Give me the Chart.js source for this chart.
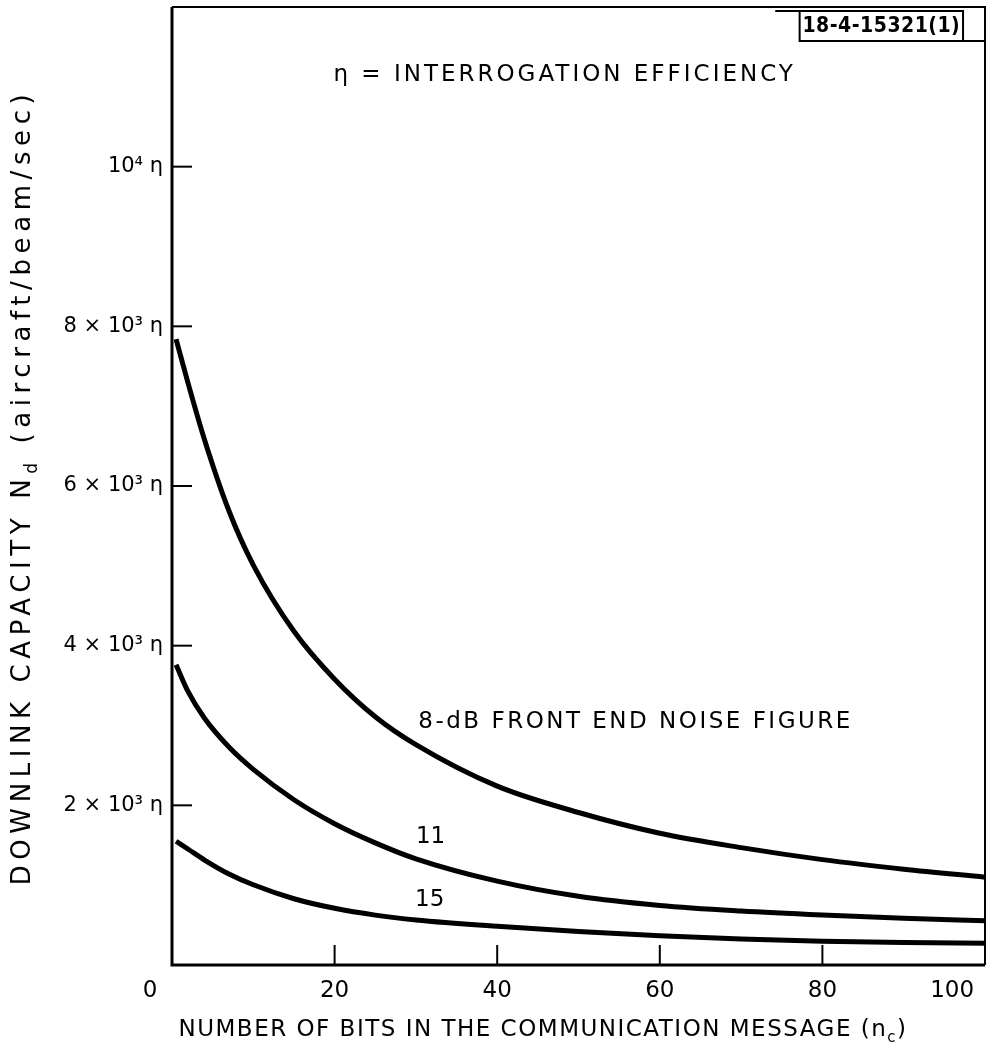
<!DOCTYPE html>
<html>
<head>
<meta charset="utf-8">
<script src="https://cdn.jsdelivr.net/npm/chart.js@4.4.0/dist/chart.umd.min.js"></script>
<style>
  html, body { margin: 0; padding: 0; background: #fff; }
</style>
</head>
<body>
<canvas id="capacityChart" width="997" height="1048"></canvas>
<script>
// values
const bits = [0.5, 2, 4, 7, 10, 15, 20, 25, 30, 40, 50, 60, 70, 80, 90, 100];
const noise8dB = [7840, 7280, 6580, 5690, 5010, 4180, 3580, 3110, 2760, 2240, 1910, 1650, 1470, 1320, 1200, 1100];
const noise11dB = [3760, 3420, 3090, 2730, 2450, 2070, 1770, 1530, 1330, 1050, 860, 745, 675, 625, 585, 555];
const noise15dB = [1550, 1450, 1315, 1140, 1005, 830, 710, 625, 565, 485, 420, 365, 325, 298, 282, 272];

const xTickValues = [0, 20, 40, 60, 80, 100];
const xTickLabels = ['0', '20', '40', '60', '80', '100'];
const yTickValues = [2000, 4000, 6000, 8000, 10000];
const yTickLabels = ['2 × 10³ η', '4 × 10³ η', '6 × 10³ η', '8 × 10³ η', '10⁴ η'];

const FONT = '"DejaVu Sans", "Liberation Sans", sans-serif';

function toPoints(ys) {
    return bits.map((b, i) => ({ x: b, y: ys[i] }));
}

function curve(label, ys) {
    return {
        label: label,
        data: toPoints(ys),
        borderColor: '#000',
        borderWidth: 5,
        borderJoinStyle: 'round',
        pointRadius: 0,
        fill: false,
        cubicInterpolationMode: 'monotone'
    };
}

// text with a lowered small letter, e.g. N_d or n_c, centred on the origin
function drawSubText(ctx, before, sub, after, size, spacing) {
    const small = Math.round(size * 0.65);
    ctx.letterSpacing = spacing + 'px';
    ctx.font = size + 'px ' + FONT;
    const w1 = ctx.measureText(before).width;
    const w3 = ctx.measureText(after).width;
    ctx.font = small + 'px ' + FONT;
    const w2 = ctx.measureText(sub).width;
    let x = -(w1 + w2 + w3) / 2;
    ctx.textAlign = 'left';
    ctx.textBaseline = 'middle';
    ctx.font = size + 'px ' + FONT;
    ctx.fillText(before, x, 0);
    x += w1;
    ctx.font = small + 'px ' + FONT;
    ctx.fillText(sub, x, size * 0.35);
    x += w2;
    ctx.font = size + 'px ' + FONT;
    ctx.fillText(after, x, 0);
    ctx.letterSpacing = '0px';
}

const paperPlugin = {
    id: 'paper',
    afterDraw(chart) {
        const { ctx, chartArea: a, scales: { x, y } } = chart;
        ctx.save();
        ctx.strokeStyle = '#000';
        ctx.fillStyle = '#000';

        // frame
        ctx.lineWidth = 3;
        ctx.beginPath();
        ctx.moveTo(a.left, a.top);
        ctx.lineTo(a.left, a.bottom);
        ctx.lineTo(a.right, a.bottom);
        ctx.stroke();
        ctx.lineWidth = 2;
        ctx.beginPath();
        ctx.moveTo(a.left, a.top);
        ctx.lineTo(a.right, a.top);
        ctx.lineTo(a.right, a.bottom);
        ctx.stroke();

        // ticks point inward
        ctx.lineWidth = 2;
        xTickValues.slice(1, -1).forEach(v => {
            const px = x.getPixelForValue(v);
            ctx.beginPath();
            ctx.moveTo(px, a.bottom);
            ctx.lineTo(px, a.bottom - 20);
            ctx.stroke();
        });
        yTickValues.forEach(v => {
            const py = y.getPixelForValue(v);
            ctx.beginPath();
            ctx.moveTo(a.left, py);
            ctx.lineTo(a.left + 20, py);
            ctx.stroke();
        });

        // curve labels
        ctx.font = '23px ' + FONT;
        ctx.letterSpacing = '2.5px';
        ctx.textAlign = 'left';
        ctx.textBaseline = 'middle';
        ctx.fillText('8-dB FRONT END NOISE FIGURE', x.getPixelForValue(30.3), y.getPixelForValue(3040));
        ctx.letterSpacing = '0px';
        ctx.fillText('11', x.getPixelForValue(30.0), y.getPixelForValue(1600));
        ctx.fillText('15', x.getPixelForValue(29.9), y.getPixelForValue(810));

        ctx.letterSpacing = '3px';
        ctx.textAlign = 'center';
        ctx.fillText('η = INTERROGATION EFFICIENCY', x.getPixelForValue(48.3), y.getPixelForValue(11150));
        ctx.letterSpacing = '0px';

        // drawing number stamp
        const bl = x.getPixelForValue(77.2), br = x.getPixelForValue(97.3);
        const bt = a.top + 4, bb = a.top + 34;
        ctx.lineWidth = 2;
        ctx.beginPath();
        ctx.moveTo(x.getPixelForValue(74.2), bt);
        ctx.lineTo(br, bt);
        ctx.lineTo(br, bb);
        ctx.moveTo(bl, bt);
        ctx.lineTo(bl, bb);
        ctx.lineTo(a.right, bb);
        ctx.stroke();
        ctx.font = 'bold 21px "DejaVu Sans Condensed", ' + FONT;
        ctx.letterSpacing = '0.5px';
        ctx.textAlign = 'center';
        ctx.fillText('18-4-15321(1)', (bl + br) / 2, (bt + bb) / 2 + 1);
        ctx.letterSpacing = '0px';

        // axis titles
        ctx.save();
        ctx.translate(543, 1030);
        drawSubText(ctx, 'NUMBER OF BITS IN THE COMMUNICATION MESSAGE (n', 'c', ')', 23, 1.5);
        ctx.restore();

        ctx.save();
        ctx.translate(23, 487);
        ctx.rotate(-Math.PI / 2);
        drawSubText(ctx, 'DOWNLINK CAPACITY N', 'd', ' (aircraft/beam/sec)', 26, 5.6);
        ctx.restore();

        ctx.restore();
    }
};

new Chart(document.getElementById('capacityChart'), {
    type: 'line',
    data: {
        datasets: [
            curve('8 dB', noise8dB),
            curve('11 dB', noise11dB),
            curve('15 dB', noise15dB)
        ]
    },
    options: {
        responsive: false,
        animation: false,
        layout: { padding: { top: 7, right: 12, left: 0, bottom: 0 } },
        plugins: {
            legend: { display: false },
            tooltip: { enabled: false }
        },
        scales: {
            x: {
                type: 'linear',
                min: 0,
                max: 100,
                grid: { display: false, drawTicks: false },
                border: { display: false },
                afterBuildTicks: s => { s.ticks = xTickValues.map(v => ({ value: v })); },
                afterFit: s => { s.height = 83; s.paddingLeft = 0; s.paddingRight = 0; },
                ticks: {
                    autoSkip: false,
                    maxRotation: 0,
                    padding: 12,
                    color: '#000',
                    font: { family: FONT, size: 23 },
                    // end labels sit a little inside the ticks on the original
                    callback: v => {
                        const i = xTickValues.indexOf(v);
                        if (i === 0) return xTickLabels[i] + '      ';
                        if (i === xTickValues.length - 1) return xTickLabels[i] + '         ';
                        return xTickLabels[i];
                    }
                }
            },
            y: {
                type: 'linear',
                min: 0,
                max: 12000,
                grid: { display: false, drawTicks: false },
                border: { display: false },
                afterBuildTicks: s => { s.ticks = yTickValues.map(v => ({ value: v })); },
                afterFit: s => { s.width = 172; s.paddingTop = 0; s.paddingBottom = 0; },
                ticks: {
                    autoSkip: false,
                    padding: 9,
                    color: '#000',
                    font: { family: FONT, size: 21 },
                    callback: v => yTickLabels[yTickValues.indexOf(v)]
                }
            }
        }
    },
    plugins: [paperPlugin]
});
</script>
</body>
</html>
